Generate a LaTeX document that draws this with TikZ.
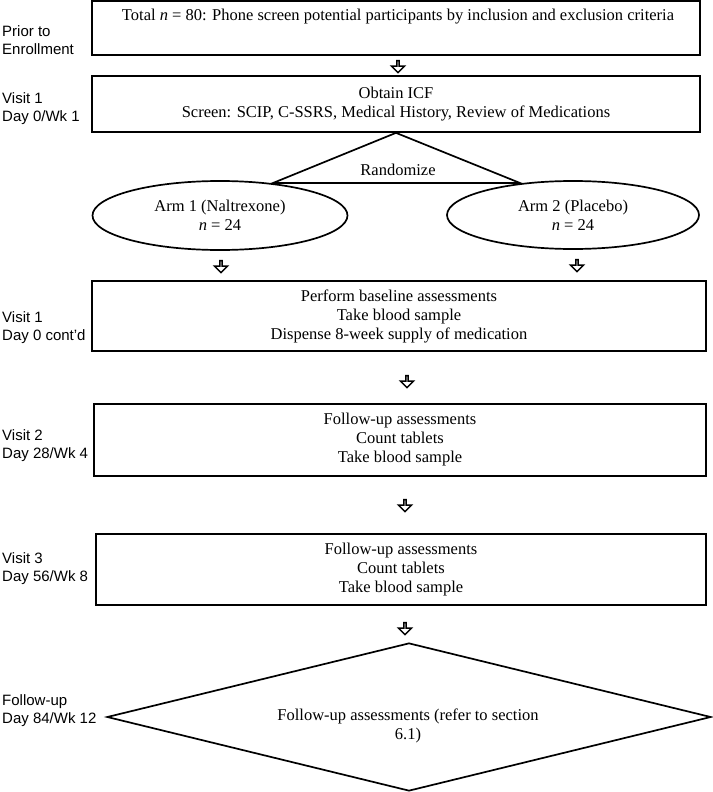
\documentclass[tikz,border=0pt]{standalone}
\usepackage{fontspec}
\setmainfont{Liberation Serif}
\newfontfamily\labfont{Liberation Sans}
\usetikzlibrary{shapes.geometric,shapes.arrows,calc}
\tikzset{
  boxnode/.style={draw, line width=1.7pt, inner sep=0pt, align=center,
    font=\fontsize{16.5}{19}\selectfont},
  txt/.style={inner sep=0pt, align=center, font=\fontsize{16.5}{19}\selectfont},
  lab/.style={inner sep=0pt, anchor=west, align=left,
    font=\labfont\fontsize{15}{18}\selectfont},
  ell/.style={draw, ellipse, line width=1.7pt, inner sep=0pt,
    minimum width=255pt, minimum height=69pt, align=center,
    font=\fontsize{16.5}{19}\selectfont},
  darrow/.style={draw, single arrow, shape border rotate=270,
    single arrow head extend=3.5pt, single arrow head indent=0pt,
    minimum width=13pt, minimum height=12pt, inner sep=0pt, line width=1.5pt,
    line join=miter},
  outline/.style={draw, line width=1.7pt, line join=miter},
}
\begin{document}
\begin{tikzpicture}[x=1pt,y=-1pt]
\useasboundingbox (0,0) rectangle (712,792);

% left labels
\node[lab] (l1) at (2,40) {Prior to\\Enrollment};
\node[lab] (l2) at (2,109) {Visit 1\\Day 0/Wk 1};
\node[lab] (l3) at (2,328) {Visit 1\\Day 0 cont’d};
\node[lab] (l4) at (2,446) {Visit 2\\Day 28/Wk 4};
\node[lab] (l5) at (2,569) {Visit 3\\Day 56/Wk 8};
\node[lab] (l6) at (2,711) {Follow-up\\Day 84/Wk 12};

% box 1
\node[boxnode, minimum width=608pt, minimum height=54pt] (b1) at (396,28) {};
\node[txt] (t1) at (398,17) {Total \textit{n} = 80: Phone screen potential participants by inclusion and exclusion criteria};
\node[darrow] (a1) at (398,66) {};

% box 2
\node[boxnode, minimum width=608pt, minimum height=56pt] (b2) at (396,104)
  {Obtain ICF\\Screen: SCIP, C-SSRS, Medical History, Review of Medications};

% randomize triangle
\coordinate (tl) at (273,183);
\coordinate (tr) at (520,183);
\draw[outline] (b2.south) -- (tl) -- (tr) -- cycle;
\node[txt] (rand) at (398,170) {Randomize};

% arms
\node[ell] (e1) at (220,215.5) {Arm 1 (Naltrexone)\\\textit{n} = 24};
\node[ell, minimum width=252pt, minimum height=68pt] (e2) at (573,215) {Arm 2 (Placebo)\\\textit{n} = 24};
\node[darrow] (a2) at (221,266) {};
\node[darrow] (a3) at (577,265) {};

% box 3
\node[boxnode, minimum width=614pt, minimum height=70pt] (b3) at (399,316)
  {Perform baseline assessments\\Take blood sample\\Dispense 8-week supply of medication};
\node[darrow] (a4) at (407,381) {};

% box 4
\node[boxnode, minimum width=612pt, minimum height=72pt] (b4) at (400,440)
  {Follow-up assessments\\Count tablets\\Take blood sample};
\node[darrow] (a5) at (405,505) {};

% box 5
\node[boxnode, minimum width=610pt, minimum height=71pt] (b5) at (401,569.5)
  {Follow-up assessments\\Count tablets\\Take blood sample};
\node[darrow] (a6) at (405,628) {};

% diamond
\node[draw, diamond, line width=1.7pt, inner sep=0pt, minimum width=604pt,
  minimum height=148pt] (d) at (409,717) {};
\node[txt] (dt) at (408,725.5) {Follow-up assessments (refer to section\\6.1)};
\end{tikzpicture}
\end{document}
